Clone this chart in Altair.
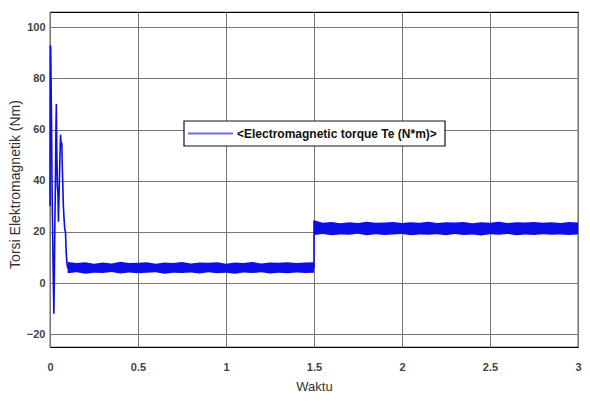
import altair as alt
import pandas as pd

# transient portion (time s, torque Nm)
trans_t = [0.0, 0.002, 0.004, 0.006, 0.009, 0.012, 0.016, 0.019, 0.022, 0.025, 0.028, 0.031,
           0.034, 0.036, 0.039, 0.042, 0.045, 0.048, 0.052, 0.056, 0.060, 0.064, 0.067,
           0.070, 0.073, 0.076, 0.080, 0.084, 0.088, 0.092, 0.096, 0.100, 1.5, 1.5, 1.503, 3.0]
trans_v = [30, 93, 92, 80, 60, 35, 15, 0, -12, 5, 25, 40,
           62, 70, 50, 38, 35, 24, 36, 48, 58, 53, 55,
           45, 38, 30, 25, 21, 20, 12, 8, 6, 6, 24.5, 21, 21]

# ripple envelope, first steady state
b1_t = [0.10, 0.15, 0.20, 0.25, 0.30, 0.35, 0.40, 0.45, 0.50, 0.55, 0.60, 0.65, 0.70, 0.75, 0.80,
        0.85, 0.90, 0.95, 1.00, 1.05, 1.10, 1.15, 1.20, 1.25, 1.30, 1.35, 1.40, 1.45, 1.50]
b1_hi = [8.2, 7.8, 8.1, 7.6, 8.0, 7.7, 8.3, 7.8, 7.9, 8.1, 7.6, 8.0, 7.8, 8.2, 7.7,
         8.0, 7.9, 8.1, 7.6, 8.0, 7.8, 8.2, 7.7, 8.0, 7.9, 8.1, 7.8, 8.0, 8.1]
b1_lo = [3.8, 4.2, 3.6, 4.0, 3.9, 4.3, 3.7, 4.1, 3.8, 4.0, 4.2, 3.6, 4.0, 3.9, 4.1,
         3.7, 4.2, 3.8, 4.0, 3.6, 4.1, 3.9, 4.2, 3.7, 4.0, 3.8, 4.1, 3.9, 4.0]

# ripple envelope, second steady state
b2_t = [1.50, 1.55, 1.60, 1.65, 1.70, 1.75, 1.80, 1.85, 1.90, 1.95, 2.00, 2.05, 2.10, 2.15, 2.20,
        2.25, 2.30, 2.35, 2.40, 2.45, 2.50, 2.55, 2.60, 2.65, 2.70, 2.75, 2.80, 2.85, 2.90, 2.95, 3.00]
b2_hi = [24.6, 23.6, 23.9, 23.4, 23.8, 23.5, 24.0, 23.6, 23.7, 23.9, 23.5, 23.8, 23.6, 24.0, 23.5,
         23.8, 23.7, 23.9, 23.4, 23.8, 23.6, 24.0, 23.5, 23.8, 23.7, 23.9, 23.6, 23.8, 23.5, 23.9, 23.7]
b2_lo = [18.8, 19.2, 18.7, 19.0, 18.9, 19.3, 18.7, 19.1, 18.8, 19.0, 19.2, 18.7, 19.0, 18.9, 19.1,
         18.7, 19.2, 18.8, 19.0, 18.6, 19.1, 18.9, 19.2, 18.7, 19.0, 18.8, 19.1, 18.9, 19.0, 18.8, 19.0]

y_ticks = [-20, 0, 20, 40, 60, 80, 100]
x_ticks = [0, 0.5, 1, 1.5, 2, 2.5, 3]
legend_label = ["<Electromagnetic torque Te (N*m)>"]

BLUE = "#0d0de8"
FONT = "Liberation Sans"

line_df = pd.DataFrame({"t": trans_t, "v": trans_v})
band_df = pd.DataFrame({"t": b1_t + b2_t, "hi": b1_hi + b2_hi, "lo": b1_lo + b2_lo,
                        "seg": ["a"] * len(b1_t) + ["b"] * len(b2_t)})
leg_df = pd.DataFrame({"label": legend_label})

xs = alt.Scale(domain=[0, 3], nice=False, zero=False)
ys = alt.Scale(domain=[-25, 106], nice=False, zero=False)

xaxis = alt.Axis(values=x_ticks, grid=True, gridColor="#777", gridOpacity=1, ticks=False,
                 domain=False, format="~g", labelFont=FONT, labelFontSize=11,
                 labelFontWeight="bold", labelColor="#444", labelPadding=14,
                 title="Waktu", titleFont=FONT, titleFontSize=13, titleFontWeight="normal",
                 titleColor="#333", titleY=39, titleBaseline="middle", labelFlush=False)
yaxis = alt.Axis(values=y_ticks, grid=True, gridColor="#777", gridOpacity=1, ticks=False,
                 domain=False, labelFont=FONT, labelFontSize=11, labelFontWeight="bold",
                 labelColor="#444", labelPadding=5, title="Torsi Elektromagnetik (Nm)",
                 titleFont=FONT, titleFontSize=14, titleFontWeight="normal", titleColor="#333",
                 titleX=-28, titleY=172, titleAngle=-90, titleBaseline="bottom",
                 titleAlign="center")

band = alt.Chart(band_df).mark_area(color=BLUE, opacity=1).encode(
    x=alt.X("t:Q", scale=xs, axis=xaxis),
    y=alt.Y("lo:Q", scale=ys, axis=yaxis),
    y2="hi:Q",
    detail="seg:N",
)

line = alt.Chart(line_df).mark_line(strokeWidth=1.6, color=BLUE).encode(
    x=alt.X("t:Q", scale=xs),
    y=alt.Y("v:Q", scale=ys),
)

# legend box (decoration)
leg_box = alt.Chart(leg_df).mark_rect(fill="#fff", stroke="#111", strokeWidth=1.2).encode(
    x=alt.value(134), x2=alt.value(395), y=alt.value(109), y2=alt.value(134))
leg_line = alt.Chart(leg_df).mark_rule(color="#7070d8", strokeWidth=2).encode(
    x=alt.value(138), x2=alt.value(183), y=alt.value(121.5))
leg_text = alt.Chart(leg_df).mark_text(align="left", baseline="middle", font=FONT,
                                       fontSize=12, fontWeight="bold", color="#111").encode(
    x=alt.value(187), y=alt.value(122), text="label:N")

chart = alt.layer(band, line, leg_box, leg_line, leg_text).properties(
    width=528, height=335,
    autosize=alt.AutoSizeParams(type="none"),
    padding={"left": 42, "top": 4, "right": 4, "bottom": 46},
).configure_view(stroke="#000", strokeWidth=1.2)

chart.save("out.html", embed_options={"renderer": "svg", "actions": False})
